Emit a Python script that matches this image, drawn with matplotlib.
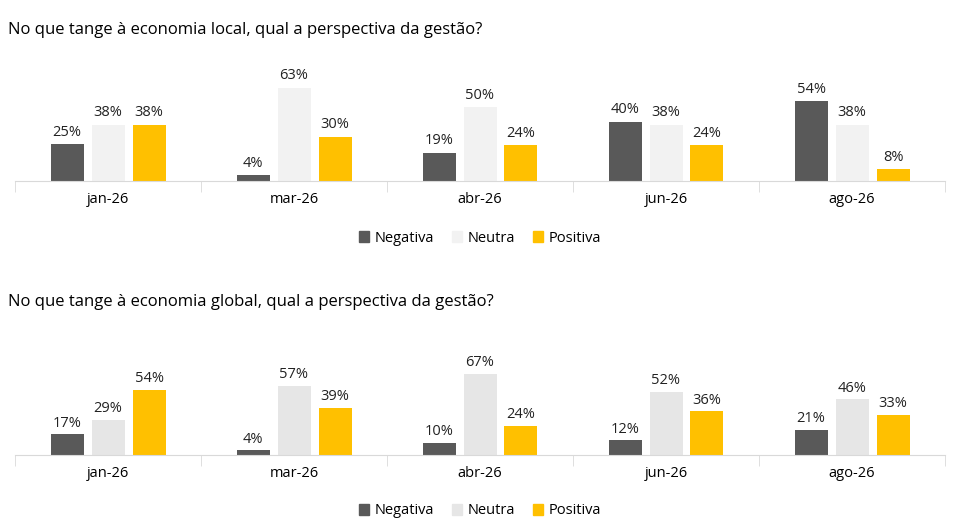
import matplotlib.pyplot as plt
import numpy as np
from matplotlib.patches import Patch

plt.rcParams['font.family'] = ['Open Sans', 'DejaVu Sans']

months = ['jan-26', 'mar-26', 'abr-26', 'jun-26', 'ago-26']
local_neg = [25, 4, 19, 40, 54]
local_neu = [38, 63, 50, 38, 38]
local_pos = [38, 30, 24, 24, 8]
global_neg = [17, 4, 10, 12, 21]
global_neu = [29, 57, 67, 52, 46]
global_pos = [54, 39, 24, 36, 33]

c_neg = '#595959'
c_pos = '#FFC000'

W, H = 970, 521
fig = plt.figure(figsize=(W / 100, H / 100), dpi=100)


def panel(title, title_y, base_y, px_per_unit, neg, neu, pos, neu_color, legend_y):
    top = 70
    h = top * px_per_unit
    ax = fig.add_axes([15 / W, (H - base_y) / H, 930 / W, h / H])
    x = np.arange(len(months))
    bw = 33 / 186
    off = 41 / 186
    for vals, dx, col in [(neg, -off, c_neg), (neu, 0, neu_color), (pos, off, c_pos)]:
        bars = ax.bar(x + dx, vals, bw, color=col)
        for b, v in zip(bars, vals):
            ax.text(b.get_x() + b.get_width() / 2, v + 3, f'{v}%', ha='center',
                    va='bottom', fontsize=10.5, color='#222222', clip_on=False)
    ax.set_xlim(-0.5, len(months) - 0.5)
    ax.set_ylim(0, top)
    ax.set_yticks([])
    ax.set_xticks(x)
    ax.set_xticklabels(months, fontsize=10.5)
    ax.tick_params(axis='x', which='major', length=0, pad=8)
    ax.set_xticks(np.arange(-0.5, len(months)), minor=True)
    ax.tick_params(axis='x', which='minor', length=8, color='#D9D9D9')
    for s in ['top', 'left', 'right']:
        ax.spines[s].set_visible(False)
    ax.spines['bottom'].set_color('#D9D9D9')
    fig.text(8 / W, 1 - title_y / H, title, fontsize=12, va='center', ha='left')
    handles = [Patch(color=c_neg, label='Negativa'), Patch(color=neu_color, label='Neutra'),
               Patch(color=c_pos, label='Positiva')]
    fig.legend(handles=handles, loc='center', bbox_to_anchor=(480 / W, 1 - legend_y / H),
               ncol=3, frameon=False, fontsize=10.5, handlelength=0.7, handleheight=0.7,
               columnspacing=1.2, handletextpad=0.4)


panel('No que tange à economia local, qual a perspectiva da gestão?', 30, 181, 1.48,
      local_neg, local_neu, local_pos, '#F2F2F2', 238)
panel('No que tange à economia global, qual a perspectiva da gestão?', 302, 455, 1.21,
      global_neg, global_neu, global_pos, '#E6E6E6', 511)

fig.savefig('out.png', dpi=100)
